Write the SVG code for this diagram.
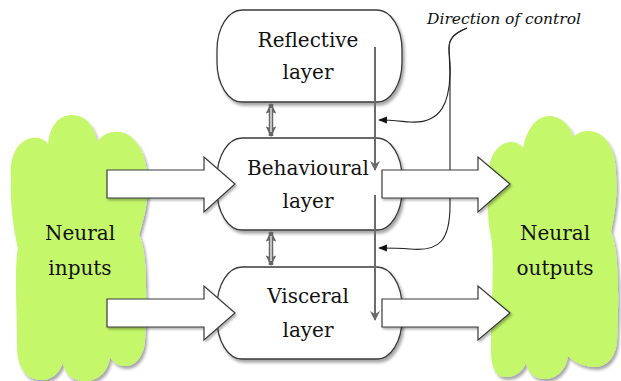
<svg xmlns="http://www.w3.org/2000/svg" width="621" height="381" viewBox="0 0 621 381">
<style>
.cloud{fill:#c4f76b;stroke:none;filter:url(#sh)}
.node{fill:#fff;stroke:#3a3a3a;stroke-width:1.3;filter:url(#sh)}
.blk{fill:#fff;stroke:#3a3a3a;stroke-width:1.2;stroke-linejoin:miter;filter:url(#sh2)}
.t{font-family:"DejaVu Serif",serif;font-size:20px;fill:#111;text-anchor:middle}
.lbl{font-family:"DejaVu Serif",serif;font-style:italic;font-size:15.5px;fill:#111}
.gray{stroke:#6b6b6b;stroke-width:2;fill:none}
.ctl{stroke:#222;stroke-width:1.1;fill:none}
</style>
<defs>
<filter id="sh" x="-10%" y="-10%" width="130%" height="130%">
<feDropShadow dx="2" dy="3" stdDeviation="1.8" flood-color="#000" flood-opacity="0.35"/>
</filter>
<filter id="sh2" x="-10%" y="-20%" width="130%" height="150%">
<feDropShadow dx="1.5" dy="2" stdDeviation="1.2" flood-color="#000" flood-opacity="0.3"/>
</filter>
<marker id="ga" viewBox="0 0 10 10" refX="9" refY="5" markerWidth="5" markerHeight="5" orient="auto" markerUnits="strokeWidth">
<path d="M0,0 L10,5 L0,10 L3,5 Z" fill="#6b6b6b"/>
</marker>
<marker id="ba" viewBox="0 0 10 10" refX="9" refY="5" markerWidth="8" markerHeight="8" orient="auto" markerUnits="strokeWidth">
<path d="M0,1 L10,5 L0,9 Z" fill="#111"/>
</marker>
<marker id="da" viewBox="0 0 10 10" refX="9" refY="5" markerWidth="2.4" markerHeight="2.4" orient="auto-start-reverse" markerUnits="strokeWidth">
<path d="M0,0 L10,5 L0,10 L2,5 Z" fill="#666"/>
</marker>
</defs>

<g id="neural-inputs">
<path class="cloud" d="M11 178 C9 156 18 140 32 138 C40 137 45 140 48 144 C50 124 60 115 72 115 C86 115 95 127 97 142 C103 133 112 131 120 132 C136 134 148 155 148 185 C148 205 142 225 139 235 C147 250 147 290 145 340 C144 356 136 366 125 366 C118 366 113 362 110 357 C108 373 97 381 85 381 C72 381 64 373 63 362 C60 374 50 381 40 380 C25 379 17 366 17 345 C17 300 14 270 18 248 C13 228 10 200 11 178 Z"/>
<text class="t" x="80" y="240">Neural</text>
<text class="t" x="80" y="275">inputs</text>
</g>

<g id="neural-outputs">
<path class="cloud" d="M489 172 C489 155 499 142 512 142 C517 142 521 145 523 148 C527 128 537 116 549 116 C561 116 571 126 573 137 C577 133 582 131 588 131 C606 131 616 150 616 175 C618 200 613 220 611 232 C619 250 619 300 617 340 C616 358 606 367 595 367 C585 367 575 363 568 356 C566 371 555 379 545 379 C535 379 528 373 526 363 C522 373 514 377 506 377 C495 377 491 366 491 350 C491 300 495 260 491 236 C487 220 487 190 489 172 Z"/>
<text class="t" x="555" y="240">Neural</text>
<text class="t" x="555" y="275">outputs</text>
</g>

<g id="reflective">
<rect class="node" x="217" y="10" width="185" height="92" rx="25" ry="40"/>
<text class="t" x="308" y="47">Reflective</text>
<text class="t" x="308" y="79">layer</text>
</g>

<g id="behavioural">
<rect class="node" x="217" y="138" width="185" height="92" rx="25" ry="40"/>
<text class="t" x="308" y="175">Behavioural</text>
<text class="t" x="308" y="208">layer</text>
</g>

<g id="visceral">
<rect class="node" x="217" y="267" width="185" height="92" rx="25" ry="40"/>
<text class="t" x="308" y="303">Visceral</text>
<text class="t" x="308" y="337">layer</text>
</g>

<g id="label">
<text class="lbl" x="427" y="24">Direction of control</text>
</g>

<g id="connectors">
<line x1="271" y1="104" x2="271" y2="136" stroke="#666" stroke-width="4.5" marker-start="url(#da)" marker-end="url(#da)"/>
<line x1="271" y1="108" x2="271" y2="132" stroke="#fff" stroke-width="1.2"/>
<line x1="271" y1="232" x2="271" y2="265" stroke="#666" stroke-width="4.5" marker-start="url(#da)" marker-end="url(#da)"/>
<line x1="271" y1="236" x2="271" y2="261" stroke="#fff" stroke-width="1.2"/>
<line class="gray" x1="375" y1="47" x2="375" y2="170" marker-end="url(#ga)"/>
<line class="gray" x1="375" y1="195" x2="375" y2="320" marker-end="url(#ga)"/>
<path class="ctl" d="M467 28 C455 33 449 38 449 48 C449 58 451 64 450 75 C449 100 443 124 410 122 C398 121 390 120 379 120" marker-end="url(#ba)"/>
<path class="ctl" d="M467 28 C455 33 449 38 449 48 L450 75 L450 205 C450 240 440 252 410 249 C398 248 390 248 379 248" marker-end="url(#ba)"/>
<path class="blk" d="M107 170 H204 V157 L235 184 L204 212 V198 H107 Z"/>
<path class="blk" d="M107 299 H204 V286 L235 313 L204 340 V327 H107 Z"/>
<path class="blk" d="M382 170 H478 V157 L510 184 L478 212 V198 H382 Z"/>
<path class="blk" d="M382 299 H478 V286 L510 313 L478 340 V327 H382 Z"/>
</g>
</svg>
